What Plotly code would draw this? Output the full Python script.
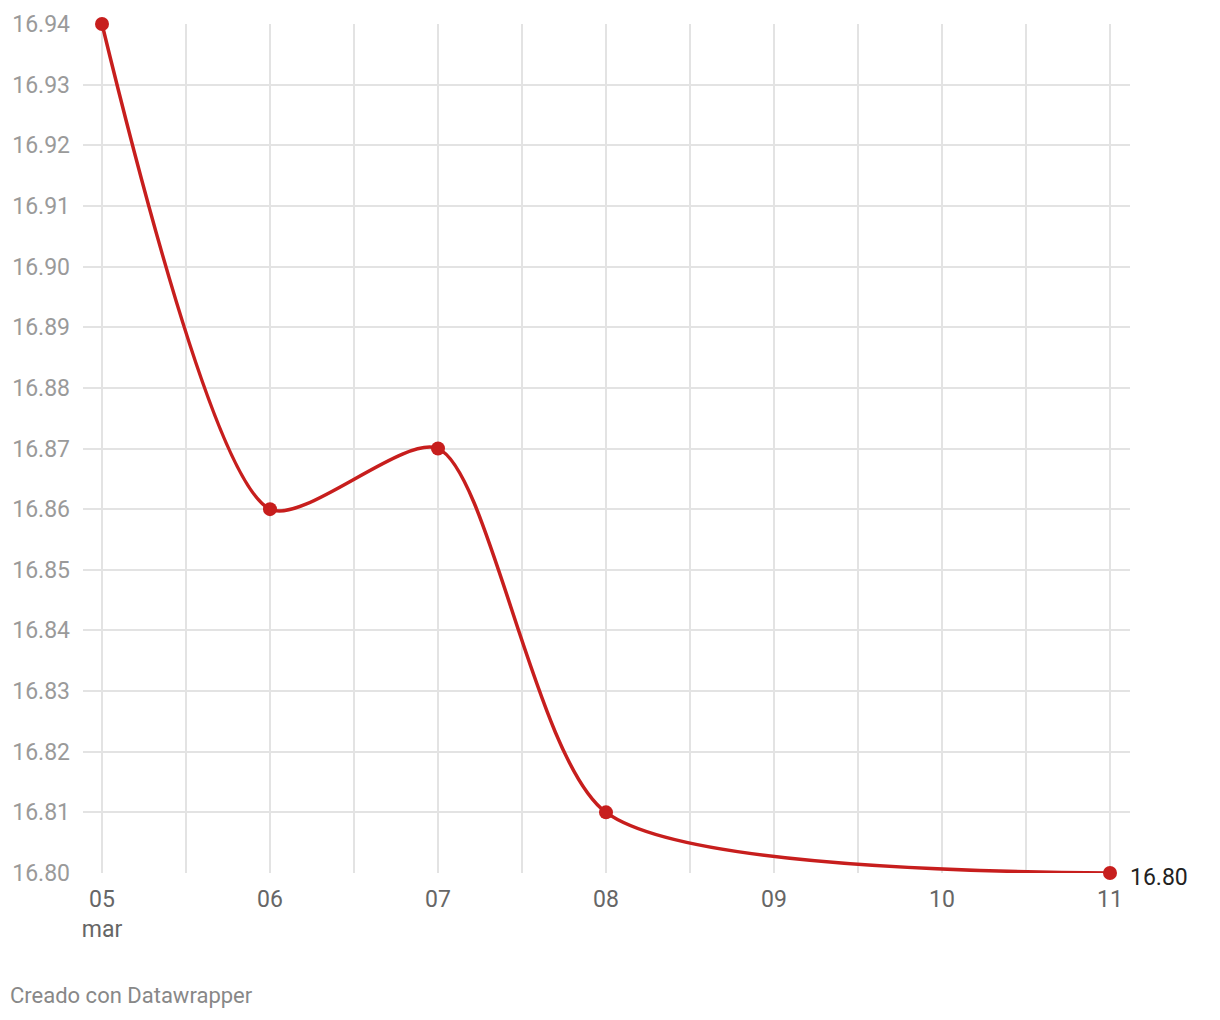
import plotly.graph_objects as go

dates = ["2020-03-05", "2020-03-06", "2020-03-07", "2020-03-08", "2020-03-11"]
values = [16.94, 16.86, 16.87, 16.81, 16.80]

grid_ticks = ["2020-03-05 00:00", "2020-03-05 12:00", "2020-03-06 00:00", "2020-03-06 12:00",
              "2020-03-07 00:00", "2020-03-07 12:00", "2020-03-08 00:00", "2020-03-08 12:00",
              "2020-03-09 00:00", "2020-03-09 12:00", "2020-03-10 00:00", "2020-03-10 12:00",
              "2020-03-11 00:00"]
grid_text = ["05<br>mar", "", "06", "", "07", "", "08", "", "09", "", "10", "", "11"]
y_ticks = [16.80, 16.81, 16.82, 16.83, 16.84, 16.85, 16.86, 16.87, 16.88, 16.89, 16.90, 16.91, 16.92, 16.93, 16.94]
last_label = "16.80"

RED = "#c71e1d"

fig = go.Figure()
fig.add_trace(go.Scatter(
    x=dates, y=values, mode="lines+markers",
    line=dict(color=RED, width=3.5, shape="spline", smoothing=0.7),
    marker=dict(color=RED, size=14),
    cliponaxis=False, hoverinfo="x+y",
))

fig.add_annotation(x=dates[-1], y=values[-1], text=last_label, showarrow=False,
                   xanchor="left", yanchor="middle", xshift=18, yshift=-4,
                   font=dict(family="Roboto", size=23, color="#222222"))
fig.add_annotation(xref="paper", yref="paper", x=-75/1047, y=-123/849, text="Creado con Datawrapper",
                   showarrow=False, xanchor="left", yanchor="middle",
                   font=dict(family="Roboto", size=22, color="#888888"))

fig.update_layout(
    width=1212, height=1012,
    margin=dict(l=75, r=90, t=16, b=147),
    paper_bgcolor="white", plot_bgcolor="white",
    showlegend=False,
    font=dict(family="Roboto"),
    xaxis=dict(
        type="date", automargin=False,
        range=["2020-03-04 21:17:09", "2020-03-11 02:51:26"],
        tickmode="array", tickvals=grid_ticks, ticktext=grid_text,
        showgrid=True, gridcolor="#e3e3e3", gridwidth=1.5,
        zeroline=False, showline=False, ticks="",
        tickfont=dict(family="Roboto", size=23, color="#666666"),
        ticklabelstandoff=10,
    ),
    yaxis=dict(
        range=[16.80, 16.94], automargin=False,
        tickmode="array", tickvals=y_ticks, ticktext=[f"{v:.2f}" for v in y_ticks],
        showgrid=True, gridcolor="#e3e3e3", gridwidth=1.5,
        zeroline=False, showline=False, ticks="",
        tickfont=dict(family="Roboto", size=23, color="#9a9a9a"),
        ticklabelstandoff=12,
    ),
)

fig.write_html("out.html")
